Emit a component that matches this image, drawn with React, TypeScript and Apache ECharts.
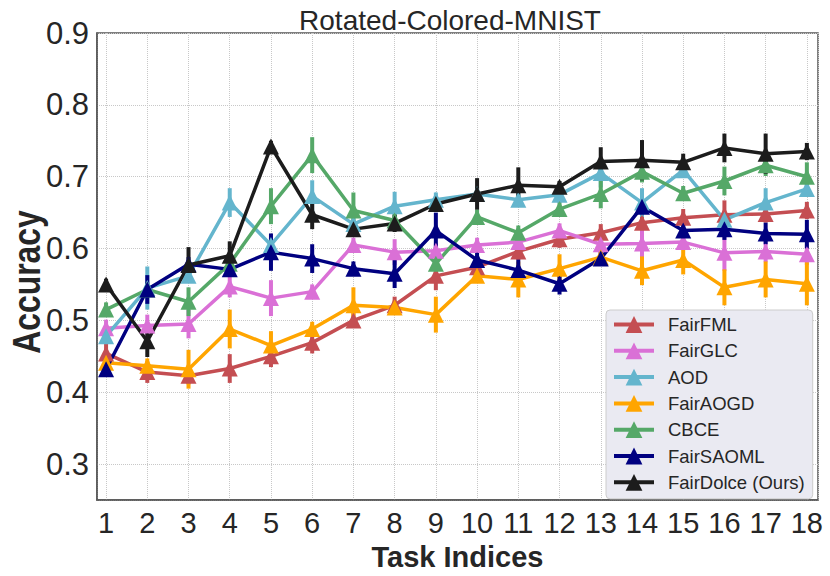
import React, { useEffect, useRef } from "react";
import * as echarts from "echarts";

const tasks = [1, 2, 3, 4, 5, 6, 7, 8, 9, 10, 11, 12, 13, 14, 15, 16, 17, 18];

const seriesNames = ["FairFML", "FairGLC", "AOD", "FairAOGD", "CBCE", "FairSAOML", "FairDolce (Ours)"];
const seriesColors = ["#c44e52", "#da70d6", "#64b5cd", "#ffa500", "#55a868", "#000080", "#1c1c1c"];

const fairFML = [0.454, 0.428, 0.423, 0.433, 0.45, 0.469, 0.5, 0.521, 0.562, 0.574, 0.596, 0.613, 0.622, 0.636, 0.643, 0.647, 0.648, 0.653];
const fairFMLErr = [0.015, 0.015, 0.012, 0.02, 0.015, 0.015, 0.01, 0.012, 0.02, 0.012, 0.012, 0.012, 0.012, 0.03, 0.012, 0.02, 0.012, 0.012];

const fairGLC = [0.489, 0.493, 0.495, 0.547, 0.531, 0.54, 0.605, 0.595, 0.597, 0.605, 0.609, 0.625, 0.606, 0.607, 0.609, 0.594, 0.596, 0.592];
const fairGLCErr = [0.012, 0.015, 0.02, 0.015, 0.025, 0.01, 0.01, 0.018, 0.01, 0.01, 0.01, 0.01, 0.015, 0.02, 0.01, 0.025, 0.015, 0.015];

const aod = [0.478, 0.545, 0.562, 0.664, 0.605, 0.673, 0.634, 0.659, 0.668, 0.676, 0.668, 0.675, 0.705, 0.664, 0.709, 0.64, 0.664, 0.683];
const aodErr = [0.01, 0.03, 0.01, 0.02, 0.01, 0.022, 0.01, 0.02, 0.01, 0.01, 0.01, 0.01, 0.02, 0.02, 0.01, 0.01, 0.02, 0.01];

const fairAOGD = [0.441, 0.437, 0.432, 0.488, 0.465, 0.488, 0.521, 0.518, 0.508, 0.562, 0.557, 0.572, 0.588, 0.569, 0.584, 0.546, 0.557, 0.551];
const fairAOGDErr = [0.01, 0.01, 0.027, 0.027, 0.02, 0.01, 0.025, 0.01, 0.025, 0.01, 0.025, 0.02, 0.01, 0.02, 0.02, 0.025, 0.025, 0.03];

const cbce = [0.515, 0.543, 0.526, 0.579, 0.659, 0.73, 0.653, 0.639, 0.579, 0.644, 0.622, 0.655, 0.676, 0.707, 0.677, 0.694, 0.716, 0.7];
const cbceErr = [0.01, 0.01, 0.02, 0.01, 0.025, 0.025, 0.025, 0.01, 0.015, 0.01, 0.01, 0.01, 0.02, 0.015, 0.01, 0.02, 0.015, 0.02];

const fairSAOML = [0.432, 0.543, 0.578, 0.571, 0.595, 0.586, 0.572, 0.565, 0.625, 0.584, 0.57, 0.551, 0.586, 0.658, 0.625, 0.627, 0.621, 0.62];
const fairSAOMLErr = [0.005, 0.02, 0.01, 0.01, 0.026, 0.02, 0.01, 0.02, 0.025, 0.01, 0.015, 0.015, 0.01, 0.01, 0.01, 0.015, 0.015, 0.02];

const fairDolce = [0.55, 0.471, 0.577, 0.59, 0.742, 0.647, 0.627, 0.635, 0.662, 0.676, 0.688, 0.686, 0.721, 0.723, 0.72, 0.74, 0.732, 0.735];
const fairDolceErr = [0.008, 0.022, 0.025, 0.02, 0.008, 0.02, 0.008, 0.012, 0.008, 0.022, 0.025, 0.008, 0.02, 0.028, 0.012, 0.02, 0.028, 0.012];

const allValues = [fairFML, fairGLC, aod, fairAOGD, cbce, fairSAOML, fairDolce];
const allErrs = [fairFMLErr, fairGLCErr, aodErr, fairAOGDErr, cbceErr, fairSAOMLErr, fairDolceErr];

const FONT = "'Liberation Sans', Arial, sans-serif";

export default function App() {
  const ref = useRef<HTMLDivElement>(null);

  useEffect(() => {
    if (!ref.current) return;
    const chart = echarts.init(ref.current, undefined, { renderer: "svg" });

    const series: any[] = [];
    seriesNames.forEach((name, i) => {
      const color = seriesColors[i];
      const vals = allValues[i];
      const errs = allErrs[i];
      series.push({
        type: "custom",
        name: name + " err",
        encode: { x: 0, y: [1, 2] },
        data: tasks.map((t, k) => [t, vals[k] - errs[k], vals[k] + errs[k]]),
        renderItem: (params: any, api: any) => {
          const x = api.value(0);
          const lo = api.coord([x, api.value(1)]);
          const hi = api.coord([x, api.value(2)]);
          return {
            type: "line",
            shape: { x1: lo[0], y1: lo[1], x2: hi[0], y2: hi[1] },
            style: { stroke: color, lineWidth: 4 },
          };
        },
        silent: true,
      });
      series.push({
        type: "line",
        name,
        data: tasks.map((t, k) => [t, vals[k]]),
        symbol: "triangle",
        symbolSize: 16,
        lineStyle: { color, width: 3.5 },
        itemStyle: { color },
        emphasis: { disabled: true },
      });
    });

    chart.setOption({
      animation: false,
      backgroundColor: "#ffffff",
      title: {
        text: "Rotated-Colored-MNIST",
        left: 445,
        top: 1,
        textAlign: "center",
        textStyle: { fontFamily: FONT, fontSize: 28, fontWeight: "normal", color: "#262626" },
      },
      grid: {
        left: 97,
        right: 12,
        top: 33,
        bottom: 70,
        show: true,
        borderColor: "#555555",
        borderWidth: 1.5,
        backgroundColor: "transparent",
      },
      legend: {
        data: seriesNames,
        orient: "vertical",
        left: 606,
        top: 310,
        backgroundColor: "#eaeaf2",
        borderColor: "#cccccc",
        borderWidth: 1,
        borderRadius: 4,
        padding: [5, 8, 7, 6],
        itemWidth: 40,
        itemHeight: 21,
        itemGap: 7.3,
        lineStyle: { width: 4 },
        textStyle: { fontFamily: FONT, fontSize: 18.5, color: "#262626", padding: [0, 0, 0, 9] },
      },
      xAxis: {
        type: "value",
        min: 0.78,
        max: 18.27,
        splitNumber: 18,
        name: "Task Indices",
        nameLocation: "middle",
        nameGap: 42,
        nameTextStyle: { fontFamily: FONT, fontSize: 29, fontWeight: "bold", color: "#262626" },
        axisLine: { show: true, lineStyle: { color: "#555555", width: 1.5 } },
        axisTick: { show: false },
        axisLabel: {
          fontFamily: FONT,
          fontSize: 29,
          color: "#262626",
          margin: 8,
          showMinLabel: false,
          showMaxLabel: false,
          formatter: (v: number) => (Math.abs(v - Math.round(v)) < 1e-6 ? String(Math.round(v)) : ""),
        },
        splitLine: { show: true, lineStyle: { color: "#c8c8c8", width: 1, type: "dotted" } },
      },
      yAxis: {
        type: "value",
        min: 0.25,
        max: 0.9,
        splitNumber: 6,
        axisLine: { show: true, lineStyle: { color: "#555555", width: 1.5 } },
        axisTick: { show: false },
        axisLabel: {
          fontFamily: FONT,
          fontSize: 31,
          color: "#262626",
          margin: 8,
          showMinLabel: false,
          formatter: (v: number) => (Math.abs(v * 10 - Math.round(v * 10)) < 1e-6 ? v.toFixed(1) : ""),
        },
        splitLine: { show: true, lineStyle: { color: "#c8c8c8", width: 1, type: "dotted" } },
      },
      graphic: [
        {
          type: "text",
          x: 26,
          y: 282,
          rotation: Math.PI / 2,
          scaleX: 0.84,
          style: {
            text: "Accuracy",
            font: "bold 38px 'Liberation Sans', Arial, sans-serif",
            fill: "#262626",
            textAlign: "center",
            textVerticalAlign: "middle",
          },
        },
      ],
      series,
    });

    return () => chart.dispose();
  }, []);

  return (
    <div
      ref={ref}
      style={{ position: "fixed", left: 0, top: 0, width: 830, height: 576 }}
    />
  );
}
